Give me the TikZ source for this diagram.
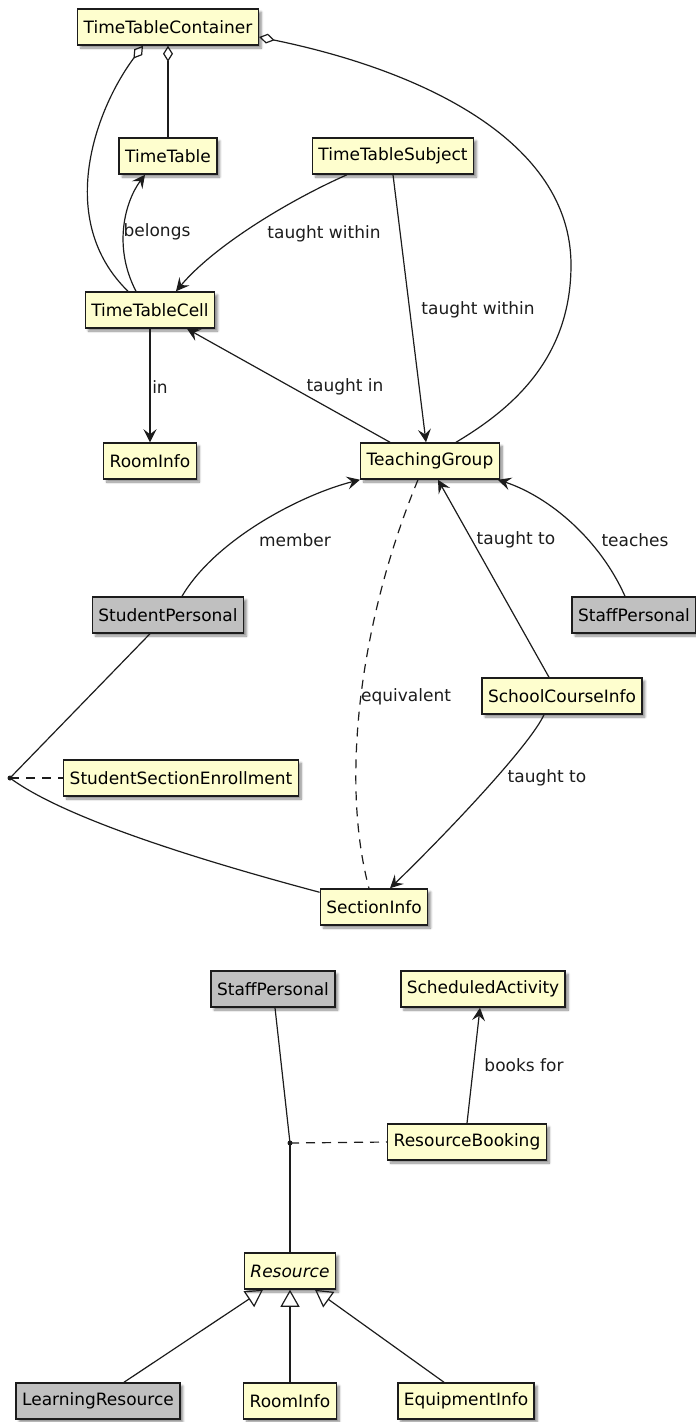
\documentclass[tikz,border=0pt]{standalone}
\usepackage{fontspec}
\setmainfont{DejaVu Sans}
\usepackage{tikz}
\usetikzlibrary{arrows.meta,shadows.blur}
\definecolor{umlyellow}{RGB}{254,254,206}
\definecolor{umlgray}{RGB}{192,192,192}
\definecolor{umlline}{RGB}{28,28,28}
\tikzset{cls/.style={rectangle, draw=umlline, line width=1.5pt, fill=umlyellow, minimum height=36pt, inner xsep=6pt, font=\fontsize{17}{20}\selectfont, blur shadow={shadow xshift=3pt, shadow yshift=-3pt, shadow blur steps=6, shadow opacity=45}}, extcls/.style={cls, fill=umlgray}, lbl/.style={font=\fontsize{17}{20}\selectfont, inner sep=1pt, text=umlline}, assoc/.style={-{Stealth[length=13pt,width=13pt,inset=5pt]}, line width=1.2pt, draw=umlline}, aggr/.style={{Diamond[open,length=16pt,width=10pt]}-, line width=1.2pt, draw=umlline}, gen/.style={-{Triangle[open,length=17pt,width=19pt]}, line width=1.2pt, draw=umlline}, link/.style={line width=1.2pt, draw=umlline}, notelink/.style={line width=1.2pt, draw=umlline, dash pattern=on 9pt off 7pt}, jdot/.style={circle, fill=umlline, inner sep=0pt, minimum size=5pt}}

\begin{document}
\begin{tikzpicture}[x=1pt, y=-1pt]
\useasboundingbox (0,0) rectangle (696,1422);
% upper diagram
\node[cls] (tcontainer) at (168,27) {TimeTableContainer};
\node[cls] (ttable) at (168,156) {TimeTable};
\node[cls] (tsubject) at (393,156) {TimeTableSubject};
\node[cls] (tcell) at (150,310) {TimeTableCell};
\node[cls] (troom) at (150,461) {RoomInfo};
\node[cls] (tgroup) at (430,461) {TeachingGroup};
\node[extcls] (spersonal) at (168,615) {StudentPersonal};
\node[extcls] (stpersonal) at (634,615) {StaffPersonal};
\node[cls] (scourse) at (562,696) {SchoolCourseInfo};
\node[cls] (senroll) at (181,778) {StudentSectionEnrollment};
\node[cls] (sinfo) at (374,907) {SectionInfo};
\node[jdot] (sjoin) at (10,778) {};
\draw[aggr] ([xshift=-25pt]tcontainer.south) .. controls (95,110) and (55,220) .. ([xshift=-22pt]tcell.north);
\draw[aggr] (tcontainer.south) -- (ttable.north);
\draw[aggr] ([yshift=-10pt]tcontainer.east) .. controls (420,70) and (571,140) .. (571,265) .. controls (571,360) and (510,410) .. ([xshift=26pt]tgroup.north);
\draw[assoc] ([xshift=-14pt]tcell.north) .. controls (112,245) and (126,200) .. ([xshift=-23pt]ttable.south);
\draw[assoc] ([xshift=-46pt]tsubject.south) .. controls (290,200) and (215,245) .. ([xshift=26pt]tcell.north);
\draw[assoc] (tsubject.south) -- ([xshift=-4pt]tgroup.north);
\draw[assoc] ([xshift=-40pt]tgroup.north) -- ([xshift=37pt]tcell.south);
\draw[assoc] (tcell.south) -- (troom.north);
\draw[assoc] ([xshift=14pt]spersonal.north) .. controls (215,540) and (300,495) .. (tgroup.south west);
\draw[assoc] ([xshift=-13pt]scourse.north) -- ([xshift=8pt]tgroup.south);
\draw[assoc] ([xshift=-9pt]stpersonal.north) .. controls (600,540) and (550,497) .. ([xshift=68pt]tgroup.south);
\draw[notelink] ([xshift=-12pt]tgroup.south) .. controls (360,620) and (340,780) .. ([xshift=-5pt]sinfo.north);
\draw[assoc] ([xshift=-18pt]scourse.south) .. controls (530,745) and (450,830) .. ([xshift=16pt]sinfo.north);
\draw[link] ([xshift=-18pt]spersonal.south) -- (sjoin.center);
\draw[link] (sjoin.center) .. controls (60,815) and (180,855) .. ([yshift=-4pt]sinfo.north west);
\draw[notelink] (sjoin.center) -- (senroll.west);
\node[lbl] (lbelongs) at (157,232) {belongs};
\node[lbl] (lwithina) at (324,234) {taught within};
\node[lbl] (lwithinb) at (478,310) {taught within};
\node[lbl] (ltaughtin) at (345,387) {taught in};
\node[lbl] (lin) at (160,387) {in};
\node[lbl] (lmember) at (295,540) {member};
\node[lbl] (ltaughttoa) at (516,540) {taught to};
\node[lbl] (lteaches) at (635,540) {teaches};
\node[lbl] (lequiv) at (406,697) {equivalent};
\node[lbl] (ltaughttob) at (547,778) {taught to};
% lower diagram
\node[extcls] (rstaff) at (273,989) {StaffPersonal};
\node[cls] (ractivity) at (483,989) {ScheduledActivity};
\node[cls] (rbooking) at (467,1142) {ResourceBooking};
\node[jdot] (rjoin) at (290,1143) {};
\node[cls, font=\fontsize{17}{20}\selectfont\itshape] (resource) at (290,1271) {Resource};
\node[extcls] (rlearning) at (98,1401) {LearningResource};
\node[cls] (rroom) at (290,1401) {RoomInfo};
\node[cls] (requip) at (466,1401) {EquipmentInfo};
\draw[link] ([xshift=2pt]rstaff.south) -- (rjoin.center);
\draw[link] (rjoin.center) -- (resource.north);
\draw[notelink] (rjoin.center) -- (rbooking.west);
\draw[assoc] (rbooking.north) -- ([xshift=-3pt]ractivity.south);
\node[lbl] (lbooks) at (524,1065) {books for};
\draw[gen] ([xshift=26pt]rlearning.north) -- ([xshift=-27pt]resource.south);
\draw[gen] (rroom.north) -- (resource.south);
\draw[gen] ([xshift=-22pt]requip.north) -- ([xshift=25pt]resource.south);
\end{tikzpicture}
\end{document}
